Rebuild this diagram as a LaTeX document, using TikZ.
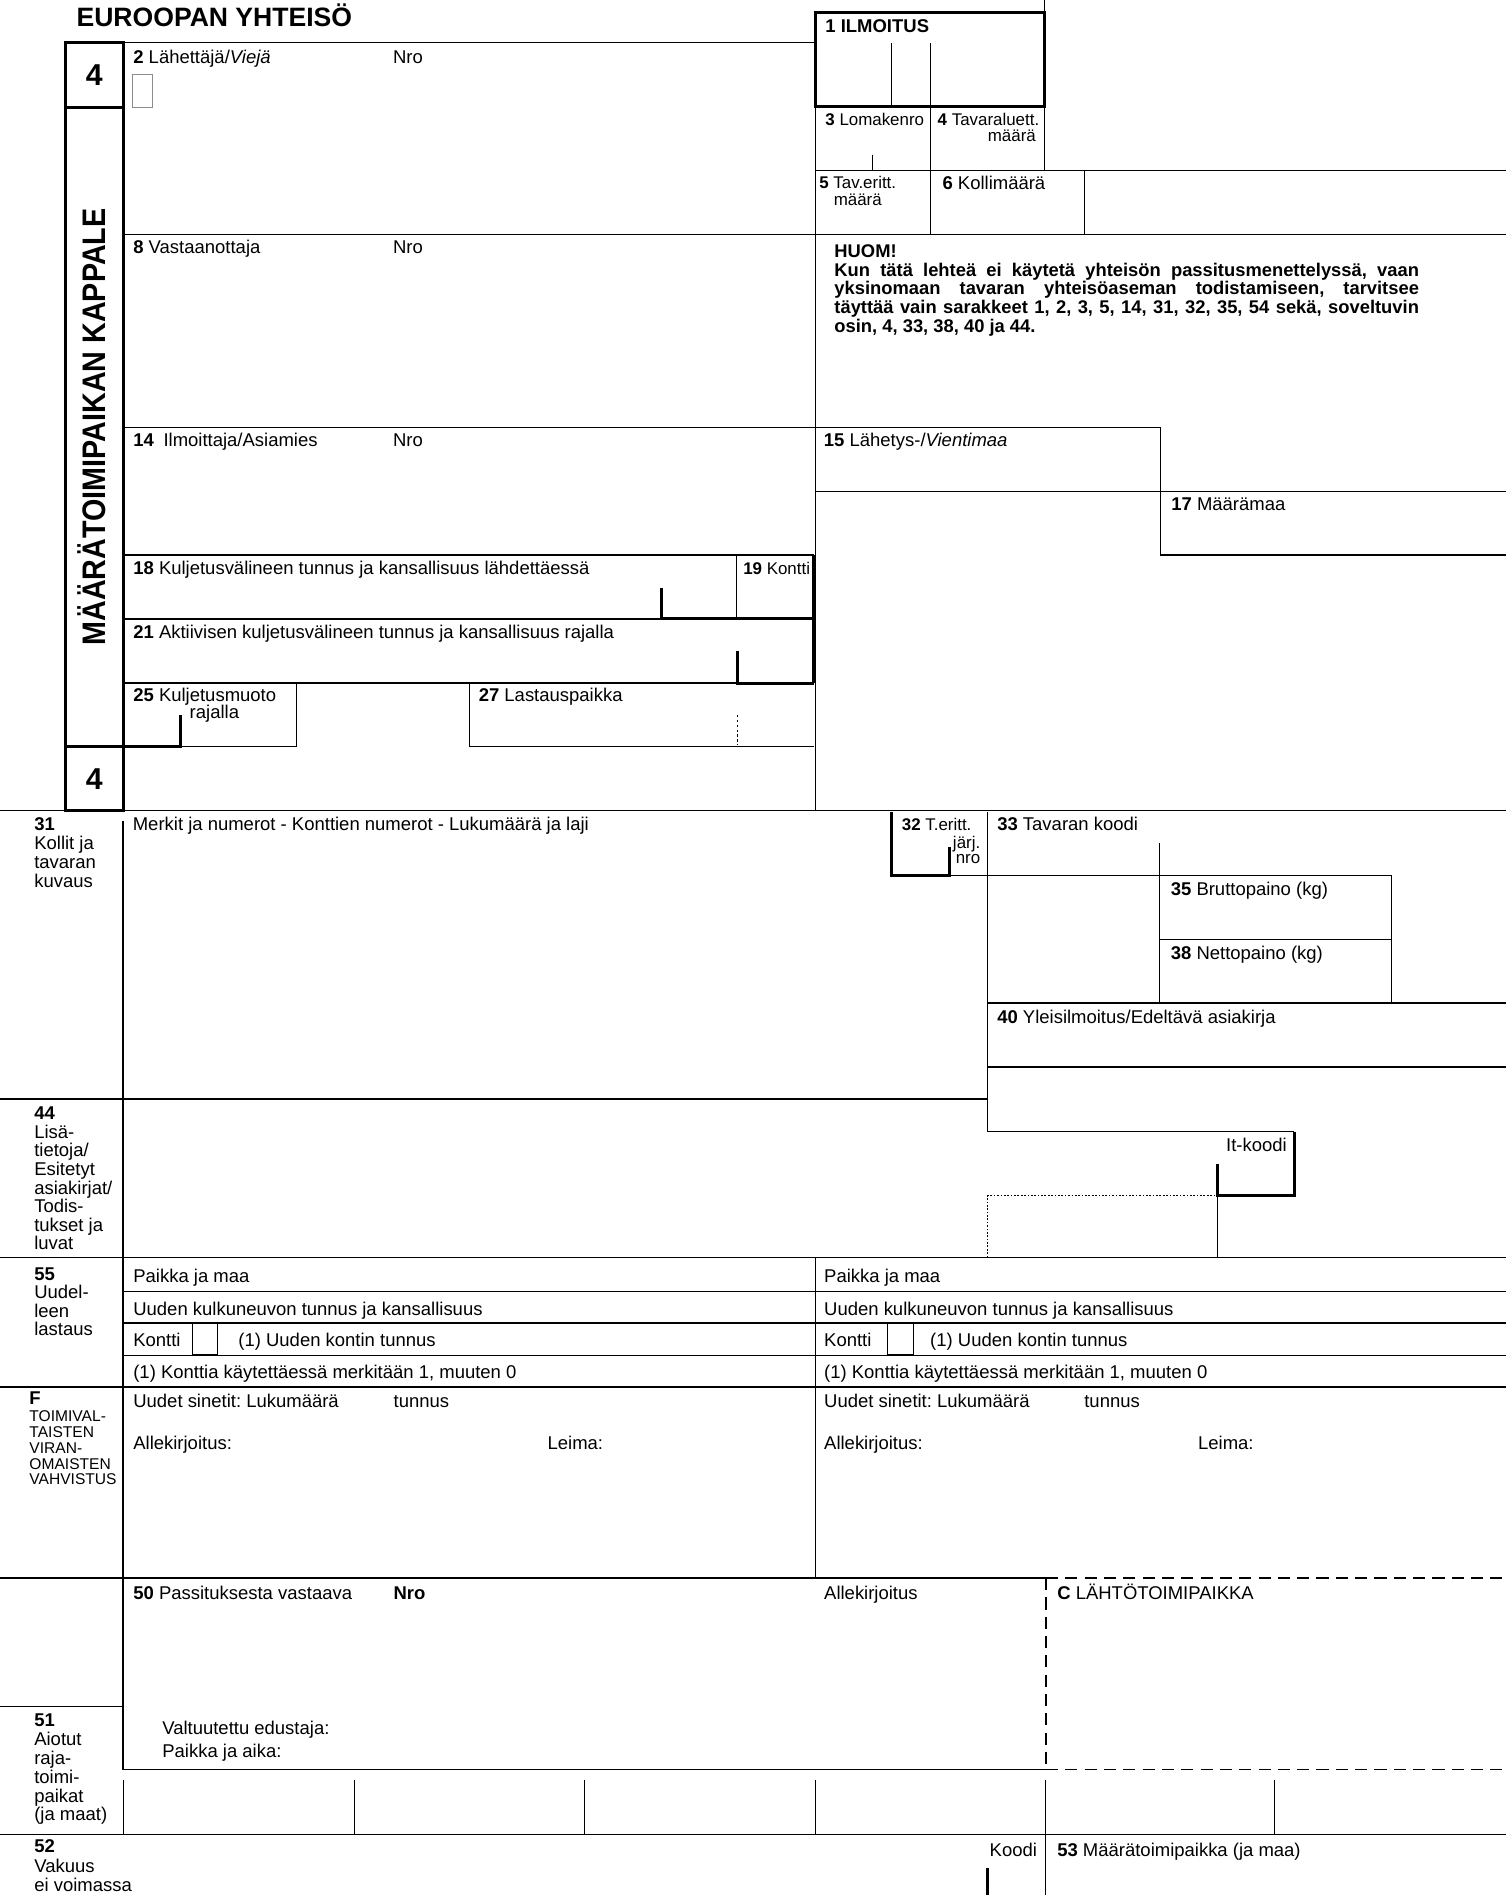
\documentclass[tikz,border=0pt]{standalone}
\usepackage{graphicx}
\usepackage{fontspec}
\setmainfont{Liberation Sans}
\frenchspacing
\newcommand\lbfont{\fontsize{7.65}{8}\selectfont}
\newcommand\cellfont{\fontsize{7}{7.5}\selectfont}
\newcommand\sbfont{\fontsize{6.45}{6.6}\selectfont}
\tikzset{
  thinl/.style={line width=0.4pt},
  medl/.style={line width=0.6pt},
  thkl/.style={line width=1.3pt},
  dashl/.style={line width=0.6pt, dash pattern=on 5pt off 3pt},
  dotl/.style={line width=0.4pt, dash pattern=on 0.7pt off 0.7pt},
  lab/.style={anchor=mid west, inner sep=0pt, font=\lbfont},
  labr/.style={anchor=mid east, inner sep=0pt, font=\lbfont},
  cell/.style={anchor=mid west, inner sep=0pt, font=\cellfont},
  cellr/.style={anchor=mid east, inner sep=0pt, font=\cellfont},
  sml/.style={anchor=mid west, inner sep=0pt, font=\sbfont},
  huom/.style={anchor=mid west, inner sep=0pt, font=\fontsize{7.6}{7.8}\selectfont\bfseries},
}
\begin{document}
\begin{tikzpicture}[x=0.5pt,y=-0.5pt]
\fill[white] (0,0) rectangle (1251,1569);
\useasboundingbox (0,0) rectangle (1251,1569);

% ---------- title and left column
\node[anchor=base west, inner sep=0pt, font=\bfseries\fontsize{11}{12}\selectfont] (title) at (63,22) {EUROOPAN YHTEISÖ};
\draw[thkl] (54,35) rectangle (102,671);
\draw[thkl] (54,89) -- (102,89) (54,618) -- (102,618);
\node[inner sep=0pt, font=\bfseries\fontsize{12.5}{13}\selectfont] (four1) at (78,62) {4};
\node[inner sep=0pt, font=\bfseries\fontsize{12.5}{13}\selectfont] (four2) at (78,645) {4};
\node[rotate=90, anchor=base, inner sep=0pt] (kappale) at (87,353.5) {\scalebox{0.88}[1]{\fontsize{13.5}{14}\selectfont\bfseries MÄÄRÄTOIMIPAIKAN KAPPALE}};

% ---------- top part
\draw[medl] (102,35) -- (675,35);
\draw[medl] (865,0) -- (865,10);
\draw[thkl] (675,10) rectangle (865,88);
\draw[thinl] (738.5,36) -- (738.5,88) (770,36) -- (770,88);
\draw[medl] (675,88) -- (675,671);
\draw[thinl] (770,88) -- (770,194) (865,88) -- (865,141) (897.7,141) -- (897.7,194) (722.4,128) -- (722.4,141);
\draw[medl] (675,141) -- (1247,141) (102,194) -- (1247,194);
\draw[thinl, draw=black!45] (110,62) rectangle (126,89);

% ---------- 14 / 15 / 17
\draw[medl] (102,353.8) -- (960.7,353.8) -- (960.7,459.4) -- (1247,459.4);
\draw[medl] (675,407) -- (1247,407);

% ---------- 18 / 19 / 21
\draw[medl] (102,459.7) -- (674,459.7);
\draw[thinl] (609.5,459.7) -- (609.5,512.4);
\draw[medl] (102,512.4) -- (547.6,512.4);
\draw[thkl] (547.6,486.5) -- (547.6,512.4) -- (674,512.4);
\draw[thkl] (674,459.7) -- (674,565.6);
\draw[medl] (102,565.6) -- (610.4,565.6);
\draw[thkl] (610.4,538.9) -- (610.4,565.6) -- (674,565.6);

% ---------- 25 / 27
\draw[thinl] (149.4,618) -- (245.5,618) -- (245.5,565.6);
\draw[thkl] (149.4,591.9) -- (149.4,618) -- (102,618);
\draw[thinl] (388.7,565.6) -- (388.7,618) -- (674,618);
\draw[thinl, dash pattern=on 1pt off 1pt] (610.4,592) -- (610.4,617);

% ---------- 31 ... 44
\draw[medl] (0,671) -- (1247,671);
\draw[medl] (102,680) -- (102,1465.2);
\draw[thkl] (738.4,672) -- (738.4,725.2) -- (785.8,725.2) -- (785.8,700.9);
\draw[medl] (817.7,672) -- (817.7,936.9);
\draw[thinl] (785.8,725.2) -- (1151.8,725.2) -- (1151.8,830.6);
\draw[thinl] (960.4,698.2) -- (960.4,830.6) (960.4,777.6) -- (1151.8,777.6);
\draw[medl] (817.7,830.6) -- (1247,830.6) (817.7,883.6) -- (1247,883.6);
\draw[medl] (0,910) -- (817.7,910);
\draw[medl] (817.7,936.9) -- (1071.7,936.9);
\draw[thkl] (1071.7,936.9) -- (1071.7,990.1) -- (1008.1,990.1) -- (1008.1,963.6);
\draw[thinl] (1008.1,990.1) -- (1008.1,1041);
\draw[dotl] (817.7,1041) -- (817.7,990.1) -- (1008.1,990.1);

% ---------- 55 / F
\draw[medl] (0,1041) -- (1247,1041);
\draw[medl] (102,1069.3) -- (1247,1069.3) (102,1095.5) -- (1247,1095.5) (102,1122.5) -- (1247,1122.5);
\draw[medl] (0,1148.5) -- (1247,1148.5);
\draw[medl] (675,1041) -- (675,1306.6);
\draw[medl] (159.5,1096) rectangle (180.3,1121.7) (734.7,1096) rectangle (756.2,1121.7);

% ---------- 50 / 51 / 52
\draw[medl] (0,1306.6) -- (866,1306.6);
\draw[dashl] (866,1306.6) -- (1247,1306.6) (866,1465.2) -- (1247,1465.2) (866,1306.6) -- (866,1465.2);
\draw[medl] (0,1412.8) -- (102,1412.8);
\draw[medl] (102,1465.2) -- (866,1465.2);
\foreach \xx in {102,293.6,484.2,674.9,865.5,1055.4} \draw[thinl] (\xx,1473.5) -- (\xx,1519);
\draw[medl] (0,1519) -- (1247,1519);
\draw[medl] (865.5,1519) -- (865.5,1569);
\draw[thkl] (817.6,1546.6) -- (817.6,1569);

% ---------- texts, top
\node[lab] (t2) at (110,47) {\textbf{2} Lähettäjä/\textit{Viejä}};
\node[lab] (t2n) at (325,47) {Nro};
\node[lab, font=\lbfont\bfseries] (t1) at (683,21.5) {1 ILMOITUS};
\node[cell] (t3) at (683,99) {\textbf{3} Lomakenro};
\node[cell] (t4) at (776,99) {\textbf{4} Tavaraluett.};
\node[cellr] (t4b) at (858,112) {määrä};
\node[cell] (t5) at (678,151) {\textbf{5} Tav.eritt.};
\node[cell] (t5b) at (690,165) {määrä};
\node[cell, font=\lbfont] (t6) at (780,152) {\textbf{6} Kollimäärä};
\node[lab] (t8) at (110,205) {\textbf{8} Vastaanottaja};
\node[lab] (t8n) at (325,205) {Nro};
\node[huom] (h0) at (690.5,208) {HUOM!};
\node[huom] (h1) at (690.5,223.5) {\makebox[242pt][s]{Kun tätä lehteä ei käytetä yhteisön passitusmenettelyssä, vaan}};
\node[huom] (h2) at (690.5,238.7) {\makebox[242pt][s]{yksinomaan tavaran yhteisöaseman todistamiseen, tarvitsee}};
\node[huom] (h3) at (690.5,253.9) {\makebox[242pt][s]{täyttää vain sarakkeet 1, 2, 3, 5, 14, 31, 32, 35, 54 sekä, soveltuvin}};
\node[huom] (h4) at (690.5,270.4) {osin, 4, 33, 38, 40 ja 44.};
\node[lab] (t14) at (110,364) {\textbf{14}\hspace{4pt}Ilmoittaja/Asiamies};
\node[lab] (t14n) at (325,364) {Nro};
\node[lab] (t15) at (681.8,364.8) {\textbf{15} Lähetys-/\textit{Vientimaa}};
\node[lab] (t17) at (969.4,417.2) {\textbf{17} Määrämaa};
\node[lab] (t18) at (110,470.4) {\textbf{18} Kuljetusvälineen tunnus ja kansallisuus lähdettäessä};
\node[cell] (t19) at (615,470.4) {\textbf{19} Kontti};
\node[lab] (t21) at (110,523.4) {\textbf{21} Aktiivisen kuljetusvälineen tunnus ja kansallisuus rajalla};
\node[lab] (t25) at (110,575.3) {\textbf{25} Kuljetusmuoto};
\node[lab] (t25b) at (156.7,589.6) {rajalla};
\node[lab] (t27) at (396,575.3) {\textbf{27} Lastauspaikka};

% ---------- texts, goods
\node[lab] (t31) at (28,682.2) {\textbf{31}};
\foreach \t [count=\i] in {Kollit ja,tavaran,kuvaus} \node[lab] (c31-\i) at (28,682.2+15.8*\i) {\t};
\node[lab] (t31b) at (109.6,682) {Merkit ja numerot - Konttien numerot - Lukumäärä ja laji};
\node[cell] (t32) at (746.3,682) {\textbf{32} T.eritt.};
\node[cellr] (t32b) at (812,697) {järj.};
\node[cellr] (t32c) at (812,709.5) {nro};
\node[lab] (t33) at (825.3,682) {\textbf{33} Tavaran koodi};
\node[lab] (t35) at (969,736.3) {\textbf{35} Bruttopaino (kg)};
\node[lab] (t38) at (969,789.2) {\textbf{38} Nettopaino (kg)};
\node[lab] (t40) at (825.3,842.2) {\textbf{40} Yleisilmoitus/Edeltävä asiakirja};
\node[lab] (t44) at (28,921.7) {\textbf{44}};
\foreach \t [count=\i] in {Lisä-,tietoja/,Esitetyt,asiakirjat/,Todis-,tukset ja,luvat} \node[lab] (c44-\i) at (28,921.7+15.4*\i) {\t};
\node[labr] (tit) at (1065.8,947.9) {It-koodi};

% ---------- texts, 55 / F
\node[lab] (t55) at (28,1054.7) {\textbf{55}};
\foreach \t [count=\i] in {Uudel-,leen,lastaus} \node[lab] (c55-\i) at (28,1054.7+15.3*\i) {\t};
\node[lab] (p1) at (110,1056.9) {Paikka ja maa};
\node[lab] (p2) at (682,1056.9) {Paikka ja maa};
\node[lab] (u1) at (110,1083.6) {Uuden kulkuneuvon tunnus ja kansallisuus};
\node[lab] (u2) at (682,1083.6) {Uuden kulkuneuvon tunnus ja kansallisuus};
\node[lab] (k1) at (110,1109.3) {Kontti};
\node[lab] (k1b) at (197,1109.3) {(1) Uuden kontin tunnus};
\node[lab] (k2) at (682,1109.3) {Kontti};
\node[lab] (k2b) at (769.8,1109.3) {(1) Uuden kontin tunnus};
\node[lab] (n1) at (110,1136.1) {(1) Konttia käytettäessä merkitään 1, muuten 0};
\node[lab] (n2) at (682,1136.1) {(1) Konttia käytettäessä merkitään 1, muuten 0};
\node[lab] (tF) at (24,1157.6) {\textbf{F}};
\foreach \t [count=\i] in {TOIMIVAL-,TAISTEN,VIRAN-,OMAISTEN,VAHVISTUS} \node[sml] (cF-\i) at (24,1159+13*\i) {\t};
\node[lab] (s1) at (110,1160.4) {Uudet sinetit: Lukumäärä};
\node[lab] (s1b) at (325.5,1160.4) {tunnus};
\node[lab] (s2) at (682,1160.4) {Uudet sinetit: Lukumäärä};
\node[lab] (s2b) at (897.4,1160.4) {tunnus};
\node[lab] (a1) at (110,1194.8) {Allekirjoitus:};
\node[lab] (l1) at (453,1194.8) {Leima:};
\node[lab] (a2) at (682,1194.8) {Allekirjoitus:};
\node[lab] (l2) at (991.6,1194.8) {Leima:};

% ---------- texts, 50 / 51 / 52 / 53
\node[lab] (t50) at (110,1319) {\textbf{50} Passituksesta vastaava};
\node[lab] (t50n) at (325.5,1319) {\textbf{Nro}};
\node[lab] (t50a) at (682,1319) {Allekirjoitus};
\node[lab] (tC) at (875,1319) {\textbf{C} LÄHTÖTOIMIPAIKKA};
\node[lab] (v1) at (134,1430.7) {Valtuutettu edustaja:};
\node[lab] (v2) at (134,1450) {Paikka ja aika:};
\node[lab] (t51) at (28,1424.4) {\textbf{51}};
\foreach \t [count=\i] in {Aiotut,raja-,toimi-,paikat,(ja maat)} \node[lab] (c51-\i) at (28,1424.4+15.6*\i) {\t};
\node[lab] (t52) at (28,1528.7) {\textbf{52}};
\foreach \t [count=\i] in {Vakuus,ei voimassa} \node[lab] (c52-\i) at (28,1528.7+16*\i) {\t};
\node[labr] (tk) at (859,1531.5) {Koodi};
\node[lab] (t53) at (875,1531.5) {\textbf{53} Määrätoimipaikka (ja maa)};
\end{tikzpicture}
\end{document}
